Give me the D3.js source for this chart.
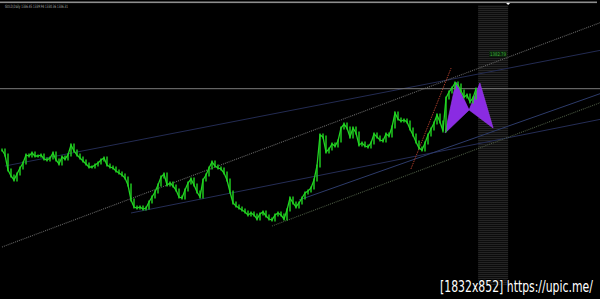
<!DOCTYPE html>
<html>
<head>
<meta charset="utf-8">
<script src="https://cdnjs.cloudflare.com/ajax/libs/d3/7.8.5/d3.min.js"></script>
<style>
body { margin: 0; background: #000; overflow: hidden; }
</style>
</head>
<body>
<div id="chart"></div>
<script>

/* - - - DATA - - - */

var titleText = "GOLD,Daily  1336.45 1339.94 1330.36 1336.31";
var bidPrice = 1336.31;
var targetLabel = "1382.79";
var watermark = "[1832x852] https://upic.me/";

// daily closes, one per bar
var closes = [1275, 1270, 1255, 1249, 1245, 1251, 1257, 1262, 1270, 1269,
	1272, 1269, 1269, 1270, 1266, 1265, 1267, 1272, 1265, 1261,
	1268, 1266, 1270, 1280, 1274, 1270, 1267, 1264, 1261, 1258,
	1258, 1260, 1262, 1265, 1267, 1260, 1258, 1257, 1254, 1252,
	1250, 1247, 1240, 1225, 1218, 1217, 1218, 1216, 1217, 1223,
	1228, 1233, 1240, 1248, 1251, 1240, 1242, 1239, 1235, 1228,
	1227, 1235, 1242, 1246, 1240, 1233, 1228, 1245, 1250, 1257,
	1263, 1259, 1257, 1256, 1252, 1245, 1233, 1222, 1219, 1217,
	1215, 1213, 1210, 1212, 1210, 1206, 1211, 1213, 1209, 1206,
	1205, 1210, 1212, 1210, 1206, 1215, 1227, 1222, 1218, 1222,
	1227, 1232, 1234, 1237, 1245, 1259, 1290, 1288, 1273, 1276,
	1281, 1279, 1284, 1297, 1301, 1297, 1288, 1297, 1292, 1280,
	1282, 1279, 1278, 1282, 1291, 1288, 1285, 1284, 1291, 1289,
	1298, 1312, 1306, 1304, 1305, 1303, 1296, 1290, 1283, 1277,
	1275, 1282, 1290, 1296, 1302, 1310, 1303, 1294, 1327, 1333,
	1337, 1342, 1340, 1334, 1328, 1330, 1323, 1327, 1336];

// trend lines as [bar, price] anchors
var channelTop = [[0, 1178], [200, 1403]];
var upperLine = [[1, 1259], [200, 1375]];
var lowerLine = [[43, 1212], [200, 1306]];
var midLine = [[99, 1225], [200, 1332]];
var channelBottom = [[90, 1199], [200, 1323]];
var fastLine = [[136.3, 1256], [149.7, 1357]];

// harmonic pattern X-A-B and B-C-D
var patternXAB = [[147.7, 1292], [151.3, 1343], [155.7, 1315]];
var patternBCD = [[155.7, 1315], [159.3, 1342], [163.7, 1297]];

// time zone shaded ahead of last bar
var zoneBars = [158.7, 168.7];

/* - - - END DATA - - - */

var width = 600;
var height = 299;

var svg = d3.select('#chart')
	.append('svg')
	.attr('width', width)
	.attr('height', height)
	.style('display', 'block')
	.style('background', '#000');

var x = d3.scaleLinear().domain([0, closes.length - 1]).range([2, 476]);
var y = d3.scaleLinear().domain([1425, 1126]).range([0, 299]);

var defs = svg.append('defs');
var pat = defs.append('pattern')
	.attr('id', 'zone')
	.attr('width', 2)
	.attr('height', 2)
	.attr('patternUnits', 'userSpaceOnUse');
pat.append('rect').attr('width', 2).attr('height', 2).attr('fill', '#0c0c0c');
pat.append('rect').attr('width', 2).attr('height', 1).attr('fill', '#242424');

/* - - - frame - - - */

svg.append('rect')
	.attr('x', 0).attr('y', 1.5)
	.attr('width', 597).attr('height', 1.6)
	.attr('fill', '#8e8e8e');

svg.append('text')
	.attr('x', 5).attr('y', 8)
	.attr('font-family', 'DejaVu Sans, sans-serif')
	.attr('font-size', 4.5)
	.attr('fill', '#b0b0b0')
	.attr('textLength', 63)
	.attr('lengthAdjust', 'spacingAndGlyphs')
	.text(titleText);

/* - - - time zone - - - */

svg.append('rect')
	.attr('x', x(zoneBars[0]))
	.attr('y', 5)
	.attr('width', x(zoneBars[1]) - x(zoneBars[0]))
	.attr('height', 280)
	.attr('fill', 'url(#zone)');

svg.append('path')
	.attr('d', 'M' + (x(zoneBars[1]) - 2) + ',3 l2,2 l2,-2 z')
	.attr('fill', '#fff');

/* - - - lines - - - */

var seg = d3.line()
	.x(function (d) { return x(d[0]); })
	.y(function (d) { return y(d[1]); });

function trend(data, color, dash, w) {
	svg.append('path')
		.attr('d', seg(data))
		.attr('fill', 'none')
		.attr('stroke', color)
		.attr('stroke-width', w || 1)
		.attr('stroke-dasharray', dash);
}

trend(upperLine, '#232b52', null);
trend(lowerLine, '#252d56', null);
trend(midLine, '#2d3b6a', null);
trend(channelTop, '#666', '1,1', 1.1);
trend(channelBottom, '#4a5842', '1,1', 1.1);

svg.append('line')
	.attr('x1', 0).attr('x2', width)
	.attr('y1', y(bidPrice)).attr('y2', y(bidPrice))
	.attr('stroke', '#7c7c7c')
	.attr('stroke-width', 1);

/* - - - pattern - - - */

[patternXAB, patternBCD].forEach(function (p) {
	svg.append('path')
		.attr('d', seg(p) + 'Z')
		.attr('fill', '#8a2be2')
		.attr('stroke', '#9b3cf0')
		.attr('stroke-width', 0.6);
});

trend(fastLine, '#a83c2a', '1.5,1', 1);

/* - - - price - - - */

svg.selectAll('rect.bar')
	.data(closes)
	.enter()
	.append('rect')
	.attr('class', 'bar')
	.attr('x', function (d, i) { return x(i) - 0.7; })
	.attr('y', function (d, i) {
		var o = i ? closes[i - 1] : d;
		return y(Math.max(o, d)) - 1.5;
	})
	.attr('width', 1.4)
	.attr('height', function (d, i) {
		var o = i ? closes[i - 1] : d;
		return Math.abs(y(o) - y(d)) + 3;
	})
	.attr('fill', '#22d422');

svg.append('path')
	.datum(closes)
	.attr('d', d3.line()
		.x(function (d, i) { return x(i); })
		.y(function (d) { return y(d); }))
	.attr('fill', 'none')
	.attr('stroke', '#22d422')
	.attr('stroke-width', 1.3);

/* - - - target label - - - */

svg.append('rect')
	.attr('x', 489).attr('y', 51)
	.attr('width', 18).attr('height', 6)
	.attr('fill', '#0c240c');

svg.append('text')
	.attr('x', 490).attr('y', 56)
	.attr('font-family', 'DejaVu Sans, sans-serif')
	.attr('font-size', 5)
	.attr('fill', '#3fae3f')
	.attr('textLength', 16)
	.attr('lengthAdjust', 'spacingAndGlyphs')
	.text(targetLabel);

/* - - - watermark - - - */

var wm = svg.append('text')
	.attr('x', 0).attr('y', 0)
	.attr('font-family', 'DejaVu Sans Condensed, DejaVu Sans, sans-serif')
	.attr('font-size', 15)
	.attr('fill', '#fff')
	.attr('stroke', '#000')
	.attr('stroke-width', 2)
	.attr('paint-order', 'stroke')
	.text(watermark);

// squeeze to the width it has in the picture
var wmWidth = wm.node().getComputedTextLength();
wm.attr('transform', 'translate(440,292) scale(' + (153 / wmWidth) + ',1)');

</script>
</body>
</html>
